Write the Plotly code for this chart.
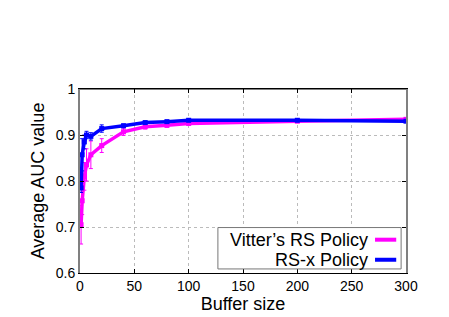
import plotly.graph_objects as go

buffer_sizes = [1, 2, 4, 6, 10, 20, 40, 60, 80, 100, 200, 300]
vitter_auc = [0.705, 0.757, 0.81, 0.835, 0.857, 0.877, 0.907, 0.918, 0.921, 0.925, 0.930, 0.934]
vitter_err = [0.042, 0.03, 0.03, 0.035, 0.03, 0.015, 0.008, 0.005, 0.004, 0.003, 0.002, 0.002]
rsx_auc = [0.785, 0.857, 0.885, 0.9, 0.897, 0.914, 0.92, 0.927, 0.929, 0.932, 0.932, 0.930]
rsx_err = [0.01, 0.035, 0.015, 0.008, 0.008, 0.008, 0.004, 0.003, 0.003, 0.003, 0.002, 0.002]

series_names = ["Vitter\u2019s RS Policy", "RS-x Policy"]
colors = ["#ff00ff", "#0000ff"]

fig = go.Figure()
for name, y, e, c in [(series_names[0], vitter_auc, vitter_err, colors[0]),
                      (series_names[1], rsx_auc, rsx_err, colors[1])]:
    fig.add_trace(go.Scatter(
        x=buffer_sizes, y=y, name=name, mode="lines+markers",
        line=dict(color=c, width=3.5),
        marker=dict(color=c, size=5, symbol="square"),
        error_y=dict(type="data", array=e, color=c, thickness=1, width=2),
        showlegend=False))

font = "Liberation Sans, Arial, sans-serif"
fig.update_layout(
    width=449, height=317,
    margin=dict(l=72, r=51, t=81, b=52),
    paper_bgcolor="white", plot_bgcolor="white",
    font=dict(family=font, size=14, color="black"),
    xaxis=dict(range=[0, 300], tickvals=[0, 50, 100, 150, 200, 250, 300],
               automargin=False,
               showgrid=True, gridcolor="#bbbbbb", griddash="dot", gridwidth=1,
               showline=True, linecolor="black", linewidth=1, mirror="ticks",
               ticks="inside", ticklen=4, tickcolor="black",
               zeroline=False,
               title=dict(text="Buffer size", font=dict(size=18, family=font), standoff=2)),
    yaxis=dict(range=[0.6, 1.0], tickvals=[0.6, 0.7, 0.8, 0.9, 1.0],
               ticktext=["0.6", "0.7", "0.8", "0.9", "1"],
               automargin=False,
               showgrid=True, gridcolor="#bbbbbb", griddash="dot", gridwidth=1,
               showline=True, linecolor="#808080", linewidth=2, mirror="ticks",
               ticks="inside", ticklen=4, tickcolor="black",
               zeroline=False,
               title=dict(text="Average AUC value", font=dict(size=18, family=font), standoff=6)),
)

# top border in black
fig.add_shape(type="line", xref="paper", yref="paper", x0=0, x1=1, y0=1, y1=1,
              line=dict(color="black", width=1))

# custom legend (text right, line sample on the right)
fig.add_shape(type="rect", xref="paper", yref="paper", x0=0.423, x1=0.985, y0=0.022, y1=0.247,
              line=dict(color="#777777", width=1), fillcolor="white", layer="above")
for i, (name, c, yy) in enumerate(zip(series_names, colors, [0.181, 0.072])):
    fig.add_annotation(xref="paper", yref="paper", x=0.89, y=yy, text=name,
                       showarrow=False, xanchor="right", yanchor="middle",
                       font=dict(size=18, family=font, color="black"))
    fig.add_shape(type="line", xref="paper", yref="paper", x0=0.905, x1=0.97, y0=yy, y1=yy,
                  line=dict(color=c, width=4), layer="above")

fig.write_html("out.html")
